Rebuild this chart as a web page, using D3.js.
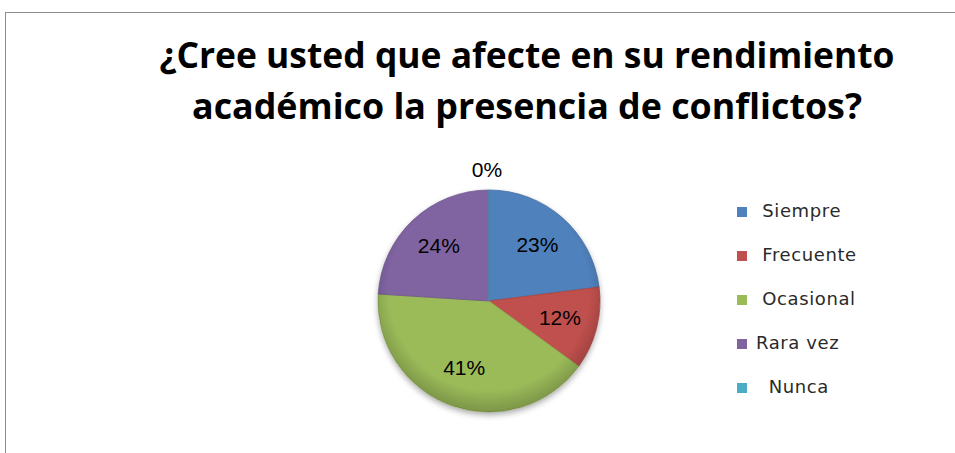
<!DOCTYPE html>
<html>
<head>
<meta charset="utf-8">
<script src="https://cdn.jsdelivr.net/npm/d3@7"></script>
<style>
  body { margin: 0; background: #fff; }
  text { white-space: pre; }
</style>
</head>
<body>
<div id="chart"></div>
<script>
// ============================
// Data
// ============================
const categories = [" Siempre", " Frecuente", " Ocasional", "Rara vez", "  Nunca"];
const values = [23, 12, 41, 24, 0];
const colors = ["#4F81BD", "#C0504D", "#9BBB59", "#8064A2", "#4BACC6"];
const titleLines = ["¿Cree usted que afecte en su rendimiento", "académico la presencia de conflictos?"];

const width = 955, height = 453;

const svg = d3.select("#chart").append("svg")
  .attr("width", width).attr("height", height);

// frame of the chart area (runs off the right and bottom)
svg.append("rect")
  .attr("x", 5.5).attr("y", 12.5)
  .attr("width", 1000).attr("height", 500)
  .attr("fill", "none").attr("stroke", "#8c8c8c").attr("stroke-width", 1);

// ============================
// Title
// ============================
const titleY = [68, 119];
const titleW = [735, 670];
titleLines.forEach((t, i) => {
  svg.append("text")
    .attr("x", 527).attr("y", titleY[i])
    .attr("text-anchor", "middle")
    .attr("textLength", titleW[i])
    .attr("lengthAdjust", "spacingAndGlyphs")
    .style("font-family", "'Open Sans', 'Noto Sans', sans-serif")
    .style("font-weight", "bold")
    .style("font-size", "35px")
    .attr("fill", "#000")
    .text(t);
});

// ============================
// Pie
// ============================
const cx = 489, cy = 301, r = 111;

const defs = svg.append("defs");
const shade = defs.append("radialGradient").attr("id", "shade")
  .attr("cx", "50%").attr("cy", "45%").attr("r", "55%");
shade.append("stop").attr("offset", "82%").attr("stop-color", "#000").attr("stop-opacity", 0);
shade.append("stop").attr("offset", "100%").attr("stop-color", "#000").attr("stop-opacity", 0.2);

const blur = defs.append("filter").attr("id", "drop")
  .attr("x", "-20%").attr("y", "-20%").attr("width", "140%").attr("height", "140%");
blur.append("feGaussianBlur").attr("in", "SourceAlpha").attr("stdDeviation", 3);
blur.append("feOffset").attr("dx", 0).attr("dy", 3).attr("result", "b");
blur.append("feComponentTransfer").append("feFuncA").attr("type", "linear").attr("slope", 0.35);
const merge = blur.append("feMerge");
merge.append("feMergeNode");
merge.append("feMergeNode").attr("in", "SourceGraphic");

const pie = d3.pie().sort(null).value(d => d);
const arcs = pie(values);
const arc = d3.arc().innerRadius(0).outerRadius(r);
const labelArc = d3.arc().innerRadius(r * 0.66).outerRadius(r * 0.66);

const g = svg.append("g").attr("transform", `translate(${cx},${cy})`);

g.append("circle").attr("r", r).attr("fill", "#fff").attr("filter", "url(#drop)");

g.selectAll("path.slice")
  .data(arcs)
  .join("path")
  .attr("class", "slice")
  .attr("d", arc)
  .attr("fill", (d, i) => colors[i])
  .attr("stroke", (d, i) => d3.color(colors[i]).darker(0.4))
  .attr("stroke-width", 0.8);

g.append("circle").attr("r", r).attr("fill", "url(#shade)").attr("pointer-events", "none");

g.selectAll("text.lbl")
  .data(arcs)
  .join("text")
  .attr("class", "lbl")
  .attr("transform", d => {
    if (d.value === 0) return `translate(${-2},${-r - 19})`;
    const [x, y] = labelArc.centroid(d);
    return `translate(${x},${y})`;
  })
  .attr("text-anchor", "middle")
  .attr("dominant-baseline", "middle")
  .style("font-family", "'Liberation Sans', Arial, sans-serif")
  .style("font-size", "21px")
  .attr("fill", "#000")
  .text(d => d.value + "%");

// ============================
// Legend
// ============================
const legend = svg.append("g").attr("transform", "translate(737,212)");
const rowH = 44;
const item = legend.selectAll("g").data(categories).join("g")
  .attr("transform", (d, i) => `translate(0,${i * rowH})`);
item.append("rect")
  .attr("x", 0).attr("y", -5).attr("width", 10).attr("height", 10)
  .attr("fill", (d, i) => colors[i]);
item.append("text")
  .attr("x", 19).attr("y", 0)
  .attr("dominant-baseline", "middle")
  .style("font-family", "'DejaVu Sans', sans-serif")
  .style("font-size", "18px")
  .style("letter-spacing", "0.6px")
  .attr("fill", "#2a2a2a")
  .text(d => d);
</script>
</body>
</html>
